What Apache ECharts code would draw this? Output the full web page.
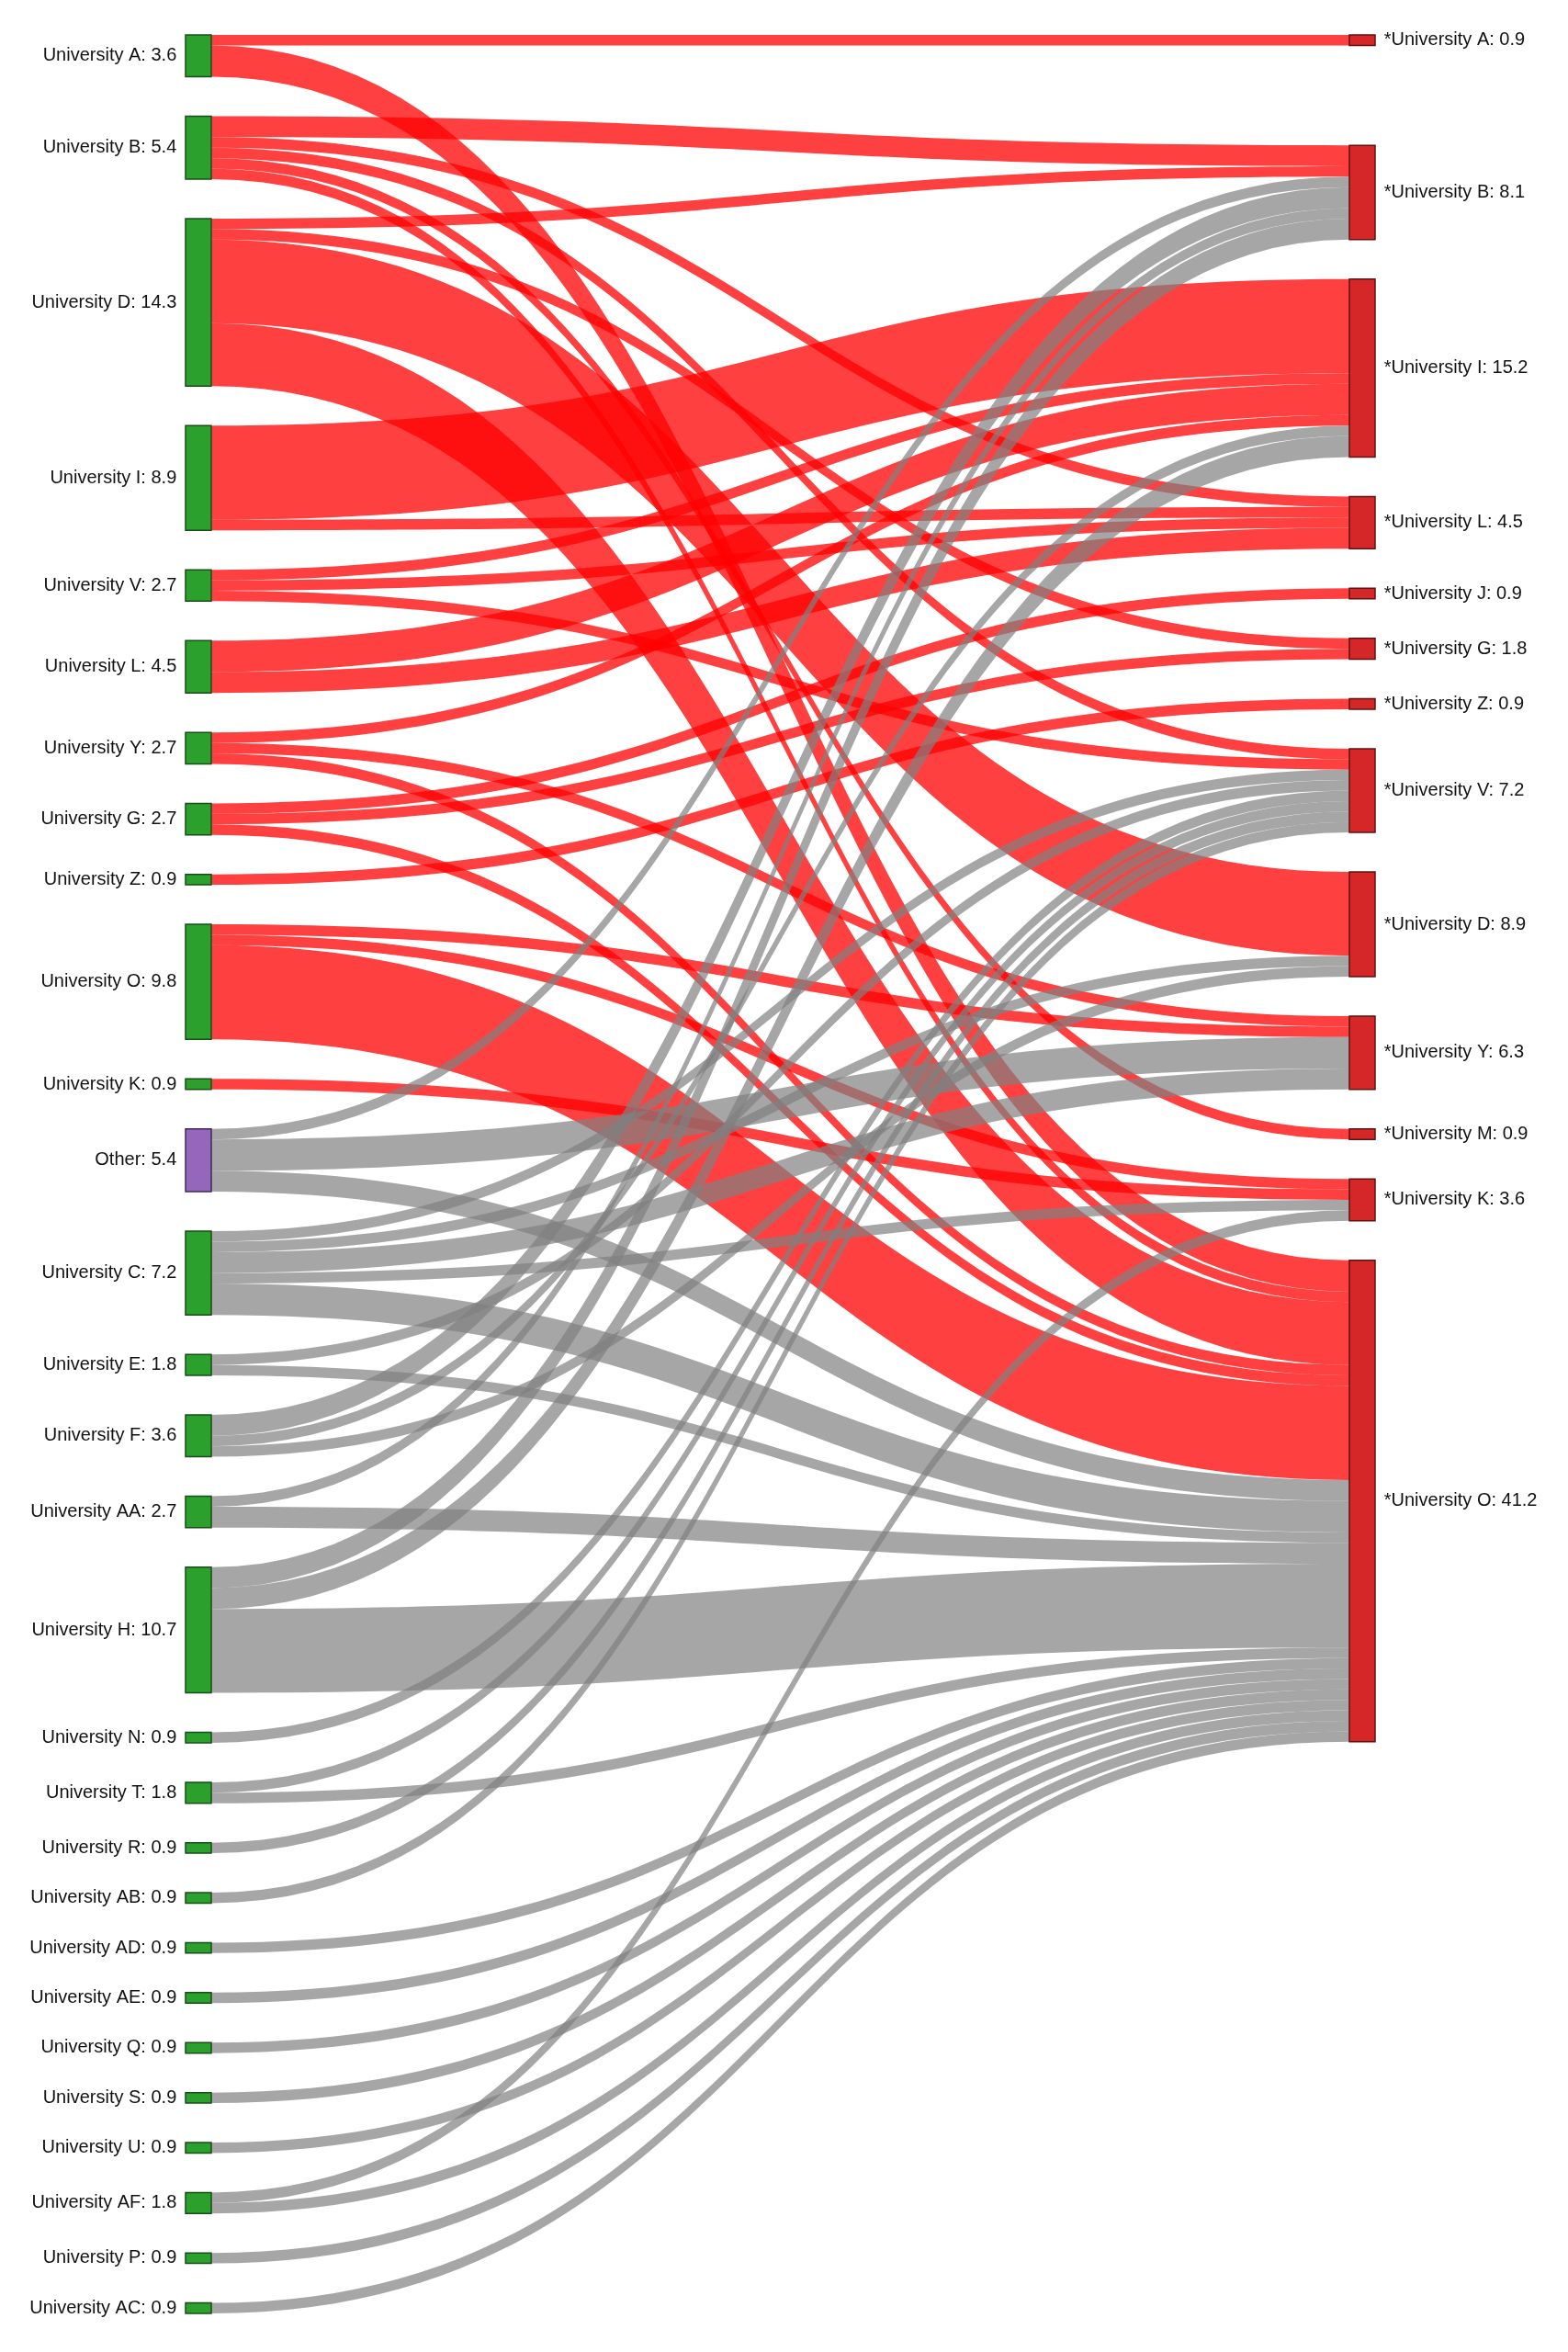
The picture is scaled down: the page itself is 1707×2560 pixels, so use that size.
<!DOCTYPE html>
<html>
<head>
<meta charset="utf-8">
<script src="https://cdn.jsdelivr.net/npm/echarts/dist/echarts.min.js"></script>
<style>
html,body{margin:0;padding:0;background:#ffffff;}
#chart{width:1707px;height:2560px;}
</style>
</head>
<body>
<div id="chart"></div>
<script>
// Left column (sources) in display order, with their labelled percentages
const leftNames = ['University A','University B','University D','University I','University V','University L','University Y','University G','University Z','University O','University K','Other','University C','University E','University F','University AA','University H','University N','University T','University R','University AB','University AD','University AE','University Q','University S','University U','University AF','University P','University AC'];
const leftPct = [3.6,5.4,14.3,8.9,2.7,4.5,2.7,2.7,0.9,9.8,0.9,5.4,7.2,1.8,3.6,2.7,10.7,0.9,1.8,0.9,0.9,0.9,0.9,0.9,0.9,0.9,1.8,0.9,0.9];

// Right column (targets) in display order, with their labelled percentages
const rightNames = ['*University A','*University B','*University I','*University L','*University J','*University G','*University Z','*University V','*University D','*University Y','*University M','*University K','*University O'];
const rightPct = [0.9,8.1,15.2,4.5,0.9,1.8,0.9,7.2,8.9,6.3,0.9,3.6,41.2];

// Flows (counts of people)
const linkSource = [
  'University A','University A',
  'University B','University B','University B','University B','University B',
  'University D','University D','University D','University D',
  'University I','University I',
  'University V','University V','University V',
  'University L','University L',
  'University Y','University Y','University Y',
  'University G','University G','University G',
  'University Z',
  'University O','University O','University O',
  'University K',
  'Other','Other','Other',
  'University C','University C','University C','University C','University C',
  'University E','University E',
  'University F','University F','University F',
  'University AA','University AA',
  'University H','University H','University H',
  'University N',
  'University T','University T',
  'University R','University AB','University AD','University AE','University Q','University S','University U',
  'University AF','University AF',
  'University P','University AC'
];
const linkTarget = [
  '*University A','*University O',
  '*University B','*University L','*University V','*University M','*University O',
  '*University B','*University G','*University D','*University O',
  '*University I','*University L',
  '*University I','*University L','*University V',
  '*University I','*University L',
  '*University I','*University Y','*University O',
  '*University J','*University G','*University O',
  '*University Z',
  '*University Y','*University K','*University O',
  '*University K',
  '*University B','*University Y','*University O',
  '*University V','*University D','*University Y','*University K','*University O',
  '*University V','*University O',
  '*University B','*University I','*University D',
  '*University B','*University O',
  '*University B','*University I','*University O',
  '*University V',
  '*University V','*University O',
  '*University V','*University V','*University O','*University O','*University O','*University O','*University O',
  '*University K','*University O',
  '*University O','*University O'
];
const linkValue = [
  1,3,
  2,1,1,1,1,
  1,1,8,6,
  9,1,
  1,1,1,
  3,2,
  1,1,1,
  1,1,1,
  1,
  1,1,9,
  1,
  1,3,2,
  1,1,2,1,3,
  1,1,
  2,1,1,
  1,2,
  2,2,8,
  1,
  1,1,
  1,1,1,1,1,1,1,
  1,1,
  1,1
];

// ---- layout / style ----
const RED = 'rgba(255,0,0,0.75)';
const GRAY = 'rgba(128,128,128,0.7)';
const FONT = '"Liberation Sans", Arial, Helvetica, sans-serif';
const RIGHT_TOP_SPACER = 2.0; // extra empty room under the first right-hand node (layout only)

const nodes = [];
leftNames.forEach(function (n, i) {
  const isOther = n === 'Other';
  nodes.push({
    name: n,
    pct: leftPct[i],
    depth: 0,
    itemStyle: {
      color: isOther ? '#9467bd' : '#2ca02c',
      borderColor: isOther ? '#3f2a5a' : '#174d17',
      borderWidth: 1.5
    },
    label: { position: 'left', distance: 9 }
  });
});
rightNames.forEach(function (n, i) {
  nodes.push({
    name: n,
    pct: rightPct[i],
    depth: 1,
    itemStyle: { color: '#d62728', borderColor: '#5e1212', borderWidth: 1.5 },
    label: { position: 'right', distance: 9 }
  });
  if (i === 0) {
    nodes.push({
      name: '__spacer__',
      value: RIGHT_TOP_SPACER,
      depth: 1,
      silent: true,
      itemStyle: { color: 'rgba(0,0,0,0)', borderWidth: 0, opacity: 0 },
      label: { show: false },
      emphasis: { disabled: true }
    });
  }
});
const pctByName = {};
nodes.forEach(function (n) { pctByName[n.name] = n.pct; });

const links = linkSource.map(function (s, i) {
  const red = rightNames.indexOf('*' + s) >= 0;
  return {
    source: s,
    target: linkTarget[i],
    value: linkValue[i],
    lineStyle: { color: red ? RED : GRAY, opacity: 1, curveness: 0.5 }
  };
});

const chart = echarts.init(document.getElementById('chart'), null, { renderer: 'canvas' });
chart.setOption({
  backgroundColor: '#ffffff',
  animation: false,
  tooltip: { show: false },
  series: [{
    type: 'sankey',
    left: 202,
    right: 210,
    top: 38,
    bottom: 42,
    nodeWidth: 28,
    nodeGap: 43,
    layoutIterations: 0,
    nodeAlign: 'justify',
    draggable: false,
    emphasis: { disabled: true },
    label: {
      show: true,
      color: '#111111',
      fontSize: 20,
      fontFamily: FONT,
      formatter: function (p) {
        const v = pctByName[p.name];
        return v == null ? '' : p.name + ': ' + v.toFixed(1);
      }
    },
    lineStyle: { curveness: 0.5, opacity: 1 },
    data: nodes,
    links: links
  }]
});
</script>
</body>
</html>
